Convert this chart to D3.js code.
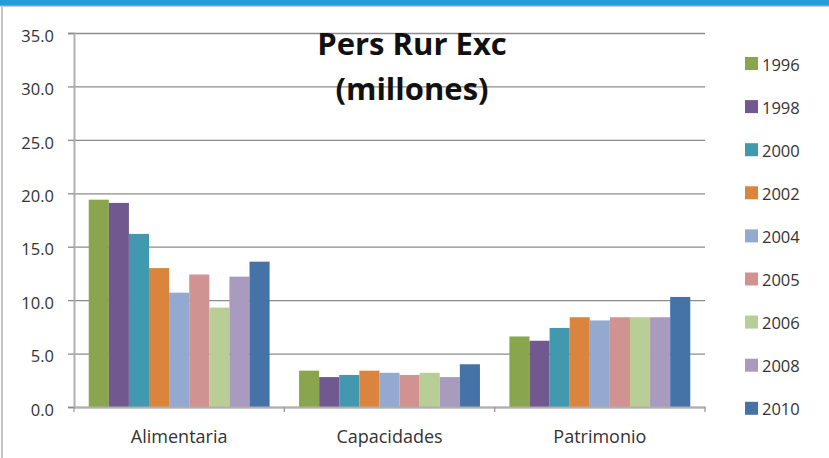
<!DOCTYPE html>
<html>
<head>
	<title>Pers Rur Exc</title>
	<script src="https://d3js.org/d3.v7.min.js"></script>
	<style type="text/css">
		body { margin: 0; background: #fff; }
		svg { display: block; }
		text { font-family: 'Open Sans', Lato, sans-serif; fill: #333; }
	</style>
</head>
<body>
	<svg id="chart" width="829" height="458"></svg>
	<script type="text/javascript">

		// data
		var categories = ['Alimentaria', 'Capacidades', 'Patrimonio'];
		var years = ['1996', '1998', '2000', '2002', '2004', '2005', '2006', '2008', '2010'];
		var s1996 = [19.4, 3.4, 6.6];
		var s1998 = [19.1, 2.8, 6.2];
		var s2000 = [16.2, 3.0, 7.4];
		var s2002 = [13.0, 3.4, 8.4];
		var s2004 = [10.7, 3.2, 8.1];
		var s2005 = [12.4, 3.0, 8.4];
		var s2006 = [9.3, 3.2, 8.4];
		var s2008 = [12.2, 2.8, 8.4];
		var s2010 = [13.6, 4.0, 10.3];
		var yTicks = [0, 5, 10, 15, 20, 25, 30, 35];

		var series = [s1996, s1998, s2000, s2002, s2004, s2005, s2006, s2008, s2010];
		var colors = ['#89a54e', '#71588f', '#4198af', '#db843d', '#93a9cf', '#d19392', '#b9cd96', '#a99bbd', '#4572a7'];

		// plot area (window.top is reserved, so other names)
		var plotLeft = 74, plotRight = 705, plotTop = 33, plotBottom = 407;
		var svg = d3.select('#chart');

		// frame: blue band on top, grey edge on left
		svg.append('rect').attr('x', 0).attr('y', 0).attr('width', 829).attr('height', 5).attr('fill', '#259ddb');
		svg.append('rect').attr('x', 0).attr('y', 5).attr('width', 829).attr('height', 1.5).attr('fill', '#9a9a9a');
		svg.append('rect').attr('x', 1).attr('y', 6).attr('width', 2).attr('height', 452).attr('fill', '#c4c4c4');

		var x0 = d3.scaleBand().domain(categories).range([plotLeft, plotRight]);
		var bw = x0.bandwidth();
		var x1 = d3.scaleBand().domain(years).range([bw * 0.07, bw * 0.93]);
		var y = d3.scaleLinear().domain([0, 35]).range([plotBottom, plotTop]);

		// gridlines
		svg.append('g')
			.attr('class', 'grid')
			.attr('transform', 'translate(' + plotLeft + ',0)')
			.call(d3.axisLeft(y).tickValues(yTicks).tickSize(-(plotRight - plotLeft)).tickFormat(''))
			.call(g => g.select('.domain').remove())
			.call(g => g.selectAll('line').attr('stroke', '#8c8c8c').attr('stroke-width', 1.3));

		// bars
		var g = svg.selectAll('.bars')
			.data(series)
			.enter().append('g')
			.attr('class', 'bars')
			.attr('fill', (d, i) => colors[i]);

		g.selectAll('rect')
			.data((d, i) => d.map((v, j) => ({ year: years[i], cat: categories[j], value: v })))
			.enter().append('rect')
			.attr('x', d => x0(d.cat) + x1(d.year))
			.attr('y', d => y(d.value))
			.attr('width', x1.bandwidth())
			.attr('height', d => y(0) - y(d.value));

		// y axis
		svg.append('g')
			.attr('transform', 'translate(' + plotLeft + ',0)')
			.call(d3.axisLeft(y).tickValues(yTicks).tickSize(6).tickPadding(14).tickFormat(d3.format('.1f')))
			.call(g => g.select('.domain').attr('stroke', '#b0b0b0').attr('stroke-width', 2))
			.call(g => g.selectAll('line').attr('stroke', '#8c8c8c').attr('stroke-width', 1.3))
			.call(g => g.selectAll('text').attr('font-size', 16.5).attr('dy', '0.5em').attr('fill', '#333'));

		// x axis
		svg.append('g')
			.attr('transform', 'translate(0,' + plotBottom + ')')
			.call(d3.axisBottom(x0).tickSize(0).tickPadding(23))
			.call(g => g.select('.domain').attr('stroke', '#b0b0b0').attr('stroke-width', 2))
			.call(g => g.selectAll('text').attr('font-size', 18).attr('fill', '#333'));

		svg.append('g')
			.selectAll('line')
			.data(categories.map(c => x0(c)).concat([plotRight]))
			.enter().append('line')
			.attr('x1', d => d).attr('x2', d => d)
			.attr('y1', plotBottom).attr('y2', plotBottom + 5)
			.attr('stroke', '#9a9a9a').attr('stroke-width', 1.3);

		// title
		svg.append('text')
			.attr('x', 412).attr('y', 55)
			.attr('text-anchor', 'middle')
			.attr('font-size', 31).attr('font-weight', 'bold')
			.style('fill', '#111')
			.text('Pers Rur Exc');
		svg.append('text')
			.attr('x', 412).attr('y', 100)
			.attr('text-anchor', 'middle')
			.attr('font-size', 31).attr('font-weight', 'bold')
			.style('fill', '#111')
			.text('(millones)');

		// legend
		var legend = svg.append('g')
			.selectAll('g')
			.data(years)
			.enter().append('g')
			.attr('transform', (d, i) => 'translate(745,' + (63.5 + i * 43.1) + ')');

		legend.append('rect')
			.attr('x', 0).attr('y', -6.5)
			.attr('width', 13).attr('height', 13)
			.attr('fill', (d, i) => colors[i]);

		legend.append('text')
			.attr('x', 17).attr('y', 7)
			.attr('font-size', 16.5)
			.text(d => d);

	</script>
</body>
</html>
